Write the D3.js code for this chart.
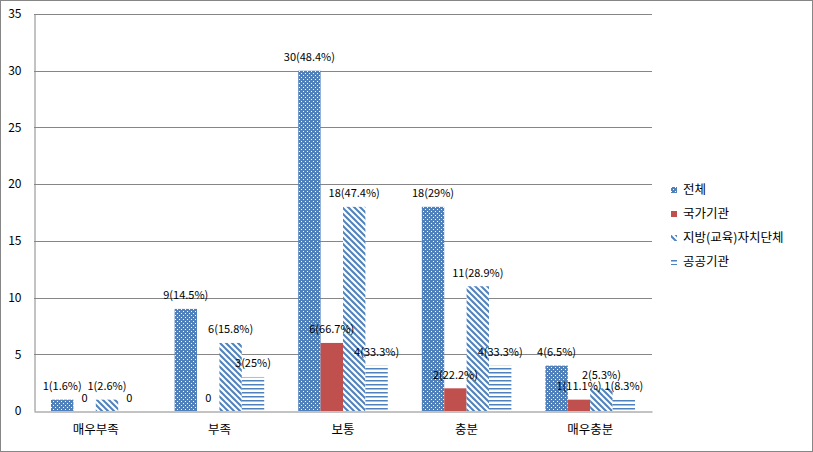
<!DOCTYPE html>
<html><head><meta charset="utf-8">
<script src="https://cdn.jsdelivr.net/npm/d3@7"></script>
<style>body{margin:0;background:#fff}svg{display:block}text{font-family:"Noto Sans CJK KR","Noto Sans",sans-serif}</style>
</head><body>
<svg id="c" width="813" height="452"></svg>
<script>
const categories = ["매우부족","부족","보통","충분","매우충분"];
const seriesNames = ["전체","국가기관","지방(교육)자치단체","공공기관"];
const valsTotal = [1,9,30,18,4];
const valsNational = [0,0,6,2,1];
const valsLocal = [1,6,18,11,2];
const valsPublic = [0,3,4,4,1];
const labelsTotal = ["1(1.6%)","9(14.5%)","30(48.4%)","18(29%)","4(6.5%)"];
const labelsNational = ["0","0","6(66.7%)","2(22.2%)","1(11.1%)"];
const labelsLocal = ["1(2.6%)","6(15.8%)","18(47.4%)","11(28.9%)","2(5.3%)"];
const labelsPublic = ["0","3(25%)","4(33.3%)","4(33.3%)","1(8.3%)"];
const yTicks = [0,5,10,15,20,25,30,35];

const series = [
  {name:seriesNames[0], vals:valsTotal, labels:labelsTotal, fill:"url(#pDots)"},
  {name:seriesNames[1], vals:valsNational, labels:labelsNational, fill:"#C0504D"},
  {name:seriesNames[2], vals:valsLocal, labels:labelsLocal, fill:"url(#pDiag)"},
  {name:seriesNames[3], vals:valsPublic, labels:labelsPublic, fill:"url(#pHoriz)"}
];

const svg = d3.select("#c");
const W=813,H=452;
const blue="#4F81BD";
const defs = svg.append("defs");
// dots
const pd = defs.append("pattern").attr("id","pDots").attr("patternUnits","userSpaceOnUse").attr("width",4).attr("height",4);
pd.append("rect").attr("width",4).attr("height",4).attr("fill",blue);
pd.append("rect").attr("x",1).attr("y",1).attr("width",1).attr("height",1).attr("fill","#fff");
pd.append("rect").attr("x",3).attr("y",3).attr("width",1).attr("height",1).attr("fill","#fff");
// diagonal "\"
const pg = defs.append("pattern").attr("id","pDiag").attr("patternUnits","userSpaceOnUse").attr("width",6).attr("height",6);
pg.append("rect").attr("width",6).attr("height",6).attr("fill","#fff");
pg.append("path").attr("d","M-3,0 L3,6 M0,-3 L6,3 M3,0 L9,6 M0,3 L6,9 M-3,-6 L9,6").attr("stroke",blue).attr("stroke-width",2).attr("fill","none");
// horizontal
const ph = defs.append("pattern").attr("id","pHoriz").attr("patternUnits","userSpaceOnUse").attr("width",4).attr("height",4);
ph.append("rect").attr("width",4).attr("height",4).attr("fill","#fff");
ph.append("rect").attr("y",0).attr("width",4).attr("height",1.5).attr("fill",blue);

svg.append("rect").attr("x",0.5).attr("y",0.5).attr("width",W-1).attr("height",H-1).attr("fill","#fff").attr("stroke","#868686");

const L=34,R=652,T=14,B=411;
const y = d3.scaleLinear().domain([0,35]).range([B,T]);
const x0 = d3.scaleBand().domain(categories).range([L,R]).padding(0);
const x1 = d3.scaleBand().domain(seriesNames).range([17, x0.bandwidth()-17]).padding(0);

// gridlines
svg.append("g").selectAll("line").data(yTicks.filter(d=>d>0)).join("line")
  .attr("x1",L).attr("x2",R).attr("y1",d=>Math.round(y(d))+0.5).attr("y2",d=>Math.round(y(d))+0.5)
  .attr("stroke","#868686").attr("stroke-width",1);
// y axis
const ya = svg.append("g").attr("transform",`translate(${L+0.5},0)`).call(d3.axisLeft(y).tickValues(yTicks).tickSize(0).tickPadding(13));
ya.select(".domain").attr("stroke","#868686");
ya.selectAll("text").attr("font-size",12).attr("fill","#000").attr("font-family","'Noto Sans CJK KR',sans-serif");

// bars
series.forEach(s=>{
  const g = svg.append("g");
  g.selectAll("rect").data(categories).join("rect")
    .attr("x",(c)=>x0(c)+x1(s.name)).attr("width",x1.bandwidth())
    .attr("y",(c,i)=>y(s.vals[i])).attr("height",(c,i)=>B-y(s.vals[i]))
    .attr("fill",s.fill);
});
// x axis
const xa = svg.append("g").attr("transform",`translate(0,${B+0.5})`).call(d3.axisBottom(x0).tickSize(0).tickPadding(14));
xa.select(".domain").attr("stroke","#868686");
xa.selectAll("text").attr("font-size",12.5).attr("fill","#000").attr("font-family","'Noto Sans CJK KR',sans-serif");

// labels
series.forEach(s=>{
  svg.append("g").selectAll("text").data(categories).join("text")
    .attr("x",c=>x0(c)+x1(s.name)+x1.bandwidth()/2)
    .attr("y",(c,i)=>y(s.vals[i])-9.5)
    .attr("text-anchor","middle").attr("font-size",11).attr("fill","#000")
    .text((c,i)=>s.labels[i]);
});

// legend
const legY=[190,214,238,262];
const lg = svg.append("g");
series.forEach((s,i)=>{
  lg.append("rect").attr("x",671).attr("y",legY[i]-3).attr("width",6).attr("height",6).attr("fill",s.fill);
  lg.append("text").attr("x",683).attr("y",legY[i]).attr("dy","0.35em").attr("font-size",12.5).attr("fill","#000").text(s.name);
});
</script>
</body></html>
